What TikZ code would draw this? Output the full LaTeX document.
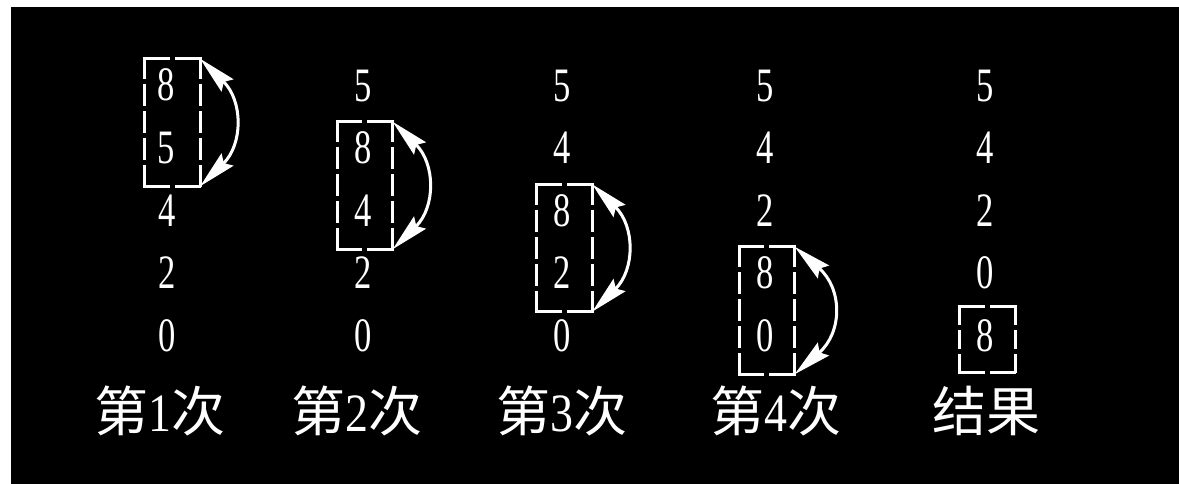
\documentclass[tikz,border=0pt]{standalone}
\usepackage{fontspec}
\setmainfont{Liberation Serif}
\newfontfamily\cjk{Noto Sans CJK SC}
\usetikzlibrary{arrows.meta}
\newcommand{\dg}[1]{\scalebox{0.72}[1]{#1}}
\newcommand{\lbdigit}[1]{{\rmfamily\scalebox{0.85}[1]{#1}}}
\newcommand{\dashedframe}[3]{%
  \draw[frameline,dash pattern=on #2 off 8pt] (#1.north west) -- (#1.north east);
  \draw[frameline,dash pattern=on #2 off 8pt] (#1.south west) -- (#1.south east);
  \draw[frameline,dash pattern=on #3 off 8pt] (#1.north west) -- (#1.south west);
  \draw[frameline,dash pattern=on #3 off 8pt] (#1.north east) -- (#1.south east);}
\begin{document}
\begin{tikzpicture}[x=1pt,y=-1pt,
  digit/.style={text=white,font=\fontsize{48}{48}\selectfont,inner sep=0pt},
  lbl/.style={text=white,font=\cjk\fontsize{54}{54}\selectfont,inner sep=0pt},
  boxnode/.style={minimum width=55pt,minimum height=127pt,inner sep=0pt},
  frameline/.style={draw=white,line width=3pt,line cap=rect},
  swaparrow/.style={draw=white,line width=3pt,
    {Stealth[length=38pt,width=17pt,inset=5pt]}-{Stealth[length=38pt,width=17pt,inset=5pt]}}
]
\useasboundingbox (0,0) rectangle (1179,484);
\fill[white] (0,0) rectangle (1179,484);
\fill[black] (11,7) rectangle (1179,484);

% column 1
\node[digit] (a1) at (166,85) {\dg{8}};
\node[digit] (a2) at (166,148) {\dg{5}};
\node[digit] (a3) at (167,211) {\dg{4}};
\node[digit] (a4) at (167,273) {\dg{2}};
\node[digit] (a5) at (167,336) {\dg{0}};
\node[boxnode] (b1) at (172.5,122.5) {};
\dashedframe{b1}{23.5pt}{19pt}
\draw[swaparrow] (b1.north east) .. controls +(43,42) and +(43,-42) .. (b1.south east);

% column 2
\node[digit] (c1) at (363,86) {\dg{5}};
\node[digit] (c2) at (363,148) {\dg{8}};
\node[digit] (c3) at (363,211) {\dg{4}};
\node[digit] (c4) at (363,273) {\dg{2}};
\node[digit] (c5) at (363,336) {\dg{0}};
\node[boxnode] (b2) at (365,185.5) {};
\dashedframe{b2}{23.5pt}{19pt}
\draw[swaparrow] (b2.north east) .. controls +(43,42) and +(43,-42) .. (b2.south east);

% column 3
\node[digit] (d1) at (562,86) {\dg{5}};
\node[digit] (d2) at (562,148) {\dg{4}};
\node[digit] (d3) at (562,211) {\dg{8}};
\node[digit] (d4) at (562,273) {\dg{2}};
\node[digit] (d5) at (562,336) {\dg{0}};
\node[boxnode] (b3) at (564.5,248) {};
\dashedframe{b3}{23.5pt}{19pt}
\draw[swaparrow] (b3.north east) .. controls +(43,42) and +(43,-42) .. (b3.south east);

% column 4
\node[digit] (e1) at (765,86) {\dg{5}};
\node[digit] (e2) at (765,148) {\dg{4}};
\node[digit] (e3) at (765,211) {\dg{2}};
\node[digit] (e4) at (765,273) {\dg{8}};
\node[digit] (e5) at (765,336) {\dg{0}};
\node[boxnode] (b4) at (767,310.5) {};
\dashedframe{b4}{23.5pt}{19pt}
\draw[swaparrow] (b4.north east) .. controls +(48,42) and +(48,-42) .. (b4.south east);

% result column
\node[digit] (f1) at (985,86) {\dg{5}};
\node[digit] (f2) at (985,148) {\dg{4}};
\node[digit] (f3) at (985,211) {\dg{2}};
\node[digit] (f4) at (985,273) {\dg{0}};
\node[digit] (f5) at (985,336) {\dg{8}};
\node[boxnode,minimum height=65pt] (b5) at (987.5,339.5) {};
\dashedframe{b5}{23.5pt}{16.33pt}

% labels
\node[lbl] (l1) at (160,411) {第\lbdigit{1}次};
\node[lbl] (l2) at (357,411) {第\lbdigit{2}次};
\node[lbl] (l3) at (562,411) {第\lbdigit{3}次};
\node[lbl] (l4) at (776,411) {第\lbdigit{4}次};
\node[lbl] (l5) at (986,411) {结果};
\end{tikzpicture}
\end{document}
